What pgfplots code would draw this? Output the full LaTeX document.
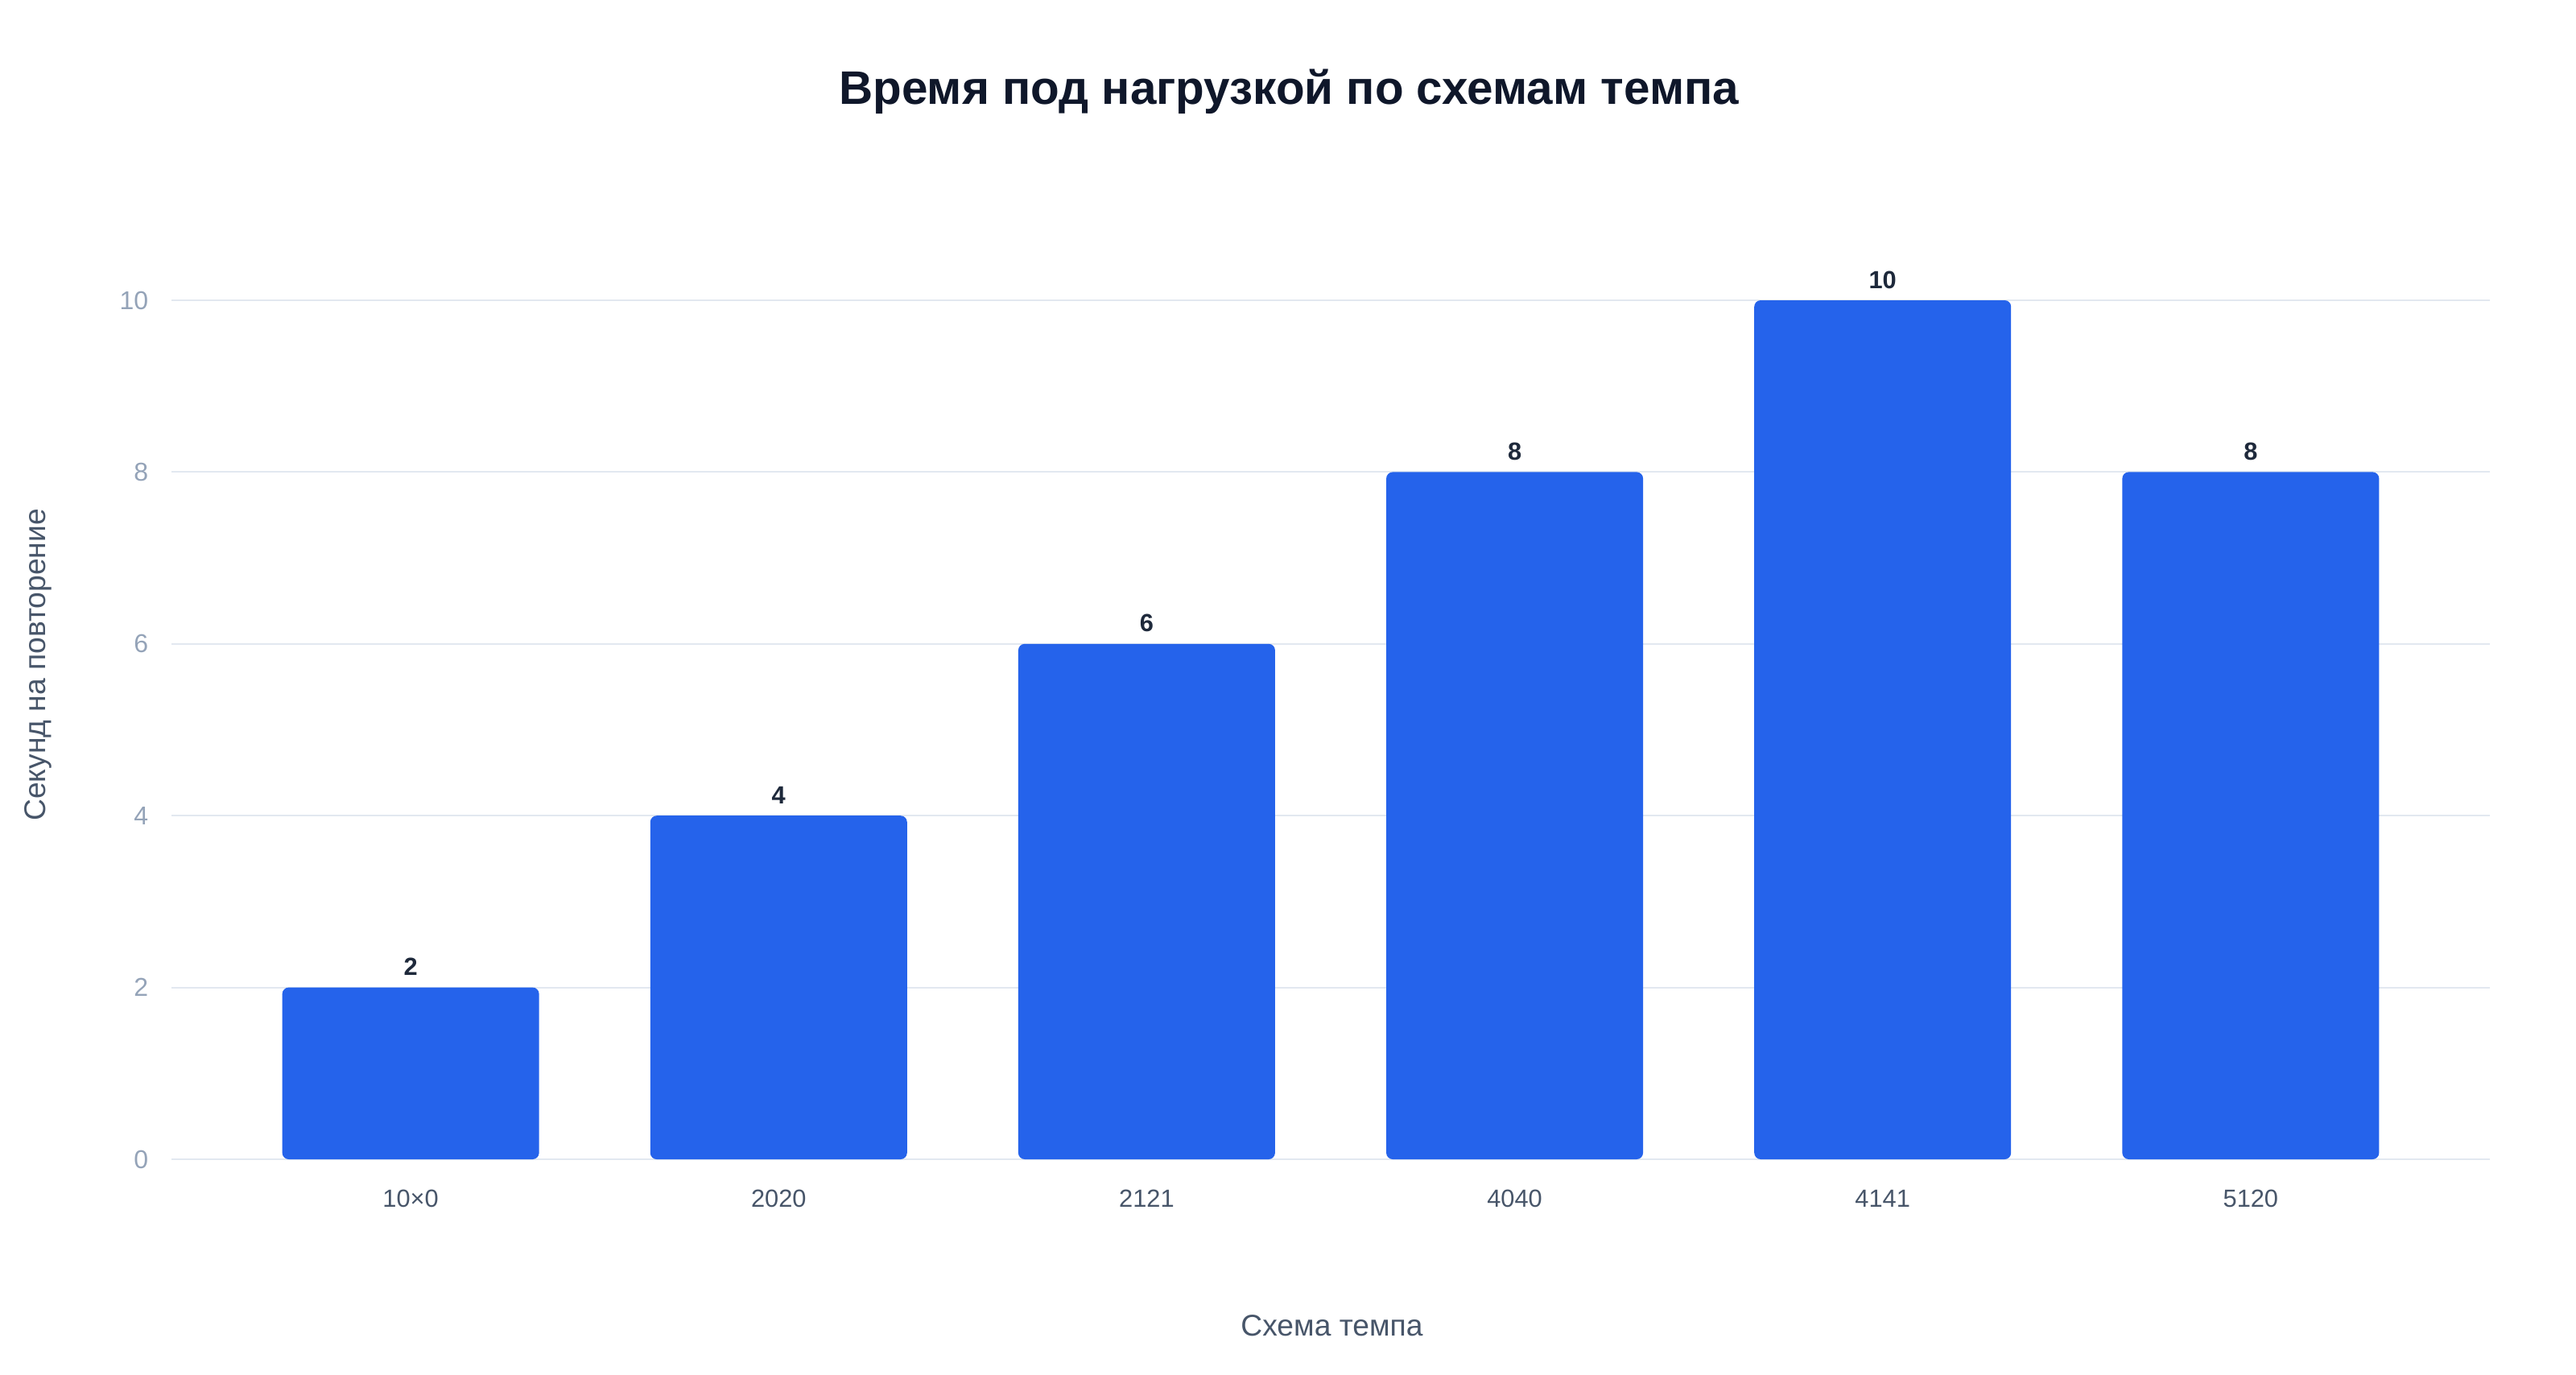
\documentclass[border=0pt]{standalone}
\usepackage{pgfplots}
\pgfplotsset{compat=1.18}
\usepackage{fontspec}
\setmainfont{Liberation Sans}
\definecolor{barblue}{HTML}{2563EB}
\definecolor{gridc}{HTML}{E2E8F0}
\definecolor{ytickc}{HTML}{94A3B8}
\definecolor{labc}{HTML}{475569}
\definecolor{titlec}{HTML}{0F172A}
\definecolor{valc}{HTML}{1E293B}
\begin{document}
\begin{tikzpicture}
  % canvas: 3200x1707 px at 0.25pt per px, axis origin at (213,1440)
  \useasboundingbox (-53.25pt,-66.75pt) rectangle (746.75pt,360pt);
  \begin{axis}[
    scale only axis,
    width=720pt,
    height=266.75pt,
    xmin=-0.65, xmax=5.65,
    ymin=0, ymax=10,
    ytick={0,2,4,6,8,10},
    xtick=data,
    xticklabels={10×0,2020,2121,4040,4141,5120},
    ybar,
    bar width=79.75pt,
    axis line style={draw=none},
    major tick length=0pt,
    ymajorgrids=true,
    grid style={gridc, line width=0.5pt},
    /pgf/number format/assume math mode=true,
    xticklabel style={font=\fontsize{7.7}{9}\selectfont, text=labc, anchor=base, yshift=-14.8pt, inner sep=0pt},
    yticklabel style={font=\fontsize{8}{9}\selectfont, text=ytickc, anchor=east, xshift=-7pt, inner sep=0pt},
    title={Время под нагрузкой по схемам темпа},
    title style={font=\bfseries\fontsize{14.6}{17}\selectfont, text=titlec,
      at={(axis description cs:0.4820,1.2298)}, anchor=base, yshift=-6.4pt, inner sep=0pt},
    xlabel={Схема темпа},
    xlabel style={font=\fontsize{9.3}{11}\selectfont, text=labc,
      at={(axis description cs:0.5005,-0.2053)}, anchor=base, inner sep=0pt},
    ylabel={Секунд на повторение},
    ylabel style={font=\fontsize{9.3}{11}\selectfont, text=labc,
      at={(axis description cs:-0.0575,0.5755)}, anchor=center, rotate=0, inner sep=0pt},
    nodes near coords,
    every node near coord/.append style={font=\bfseries\fontsize{7.7}{9}\selectfont, text=valc, anchor=base, yshift=3.75pt, inner sep=0pt},
    clip=false,
  ]
    \addplot [fill=barblue, draw=none, rounded corners=2pt] coordinates {
      (0,2) (1,4) (2,6) (3,8) (4,10) (5,8)
    };
  \end{axis}
\end{tikzpicture}
\end{document}
